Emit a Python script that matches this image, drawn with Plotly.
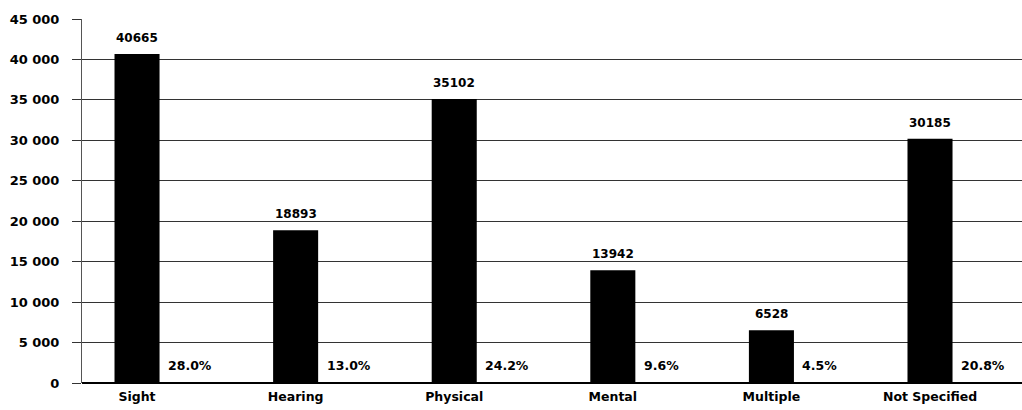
import plotly.graph_objects as go

categories = ["Sight", "Hearing", "Physical", "Mental", "Multiple", "Not Specified"]
counts = [40665, 18893, 35102, 13942, 6528, 30185]
percents = ["28.0%", "13.0%", "24.2%", "9.6%", "4.5%", "20.8%"]
y_ticks = [0, 5000, 10000, 15000, 20000, 25000, 30000, 35000, 40000, 45000]
y_tick_labels = ["0", "5 000", "10 000", "15 000", "20 000", "25 000",
                 "30 000", "35 000", "40 000", "45 000"]

FONT = "DejaVu Sans"
xs = list(range(len(categories)))

fig = go.Figure()
fig.add_trace(go.Bar(
    x=xs, y=counts, width=0.284,
    marker=dict(color="#000000", line=dict(width=0)),
    hoverinfo="skip",
))

annotations = []
for i, (v, p) in enumerate(zip(counts, percents)):
    annotations.append(dict(
        x=i, y=v, text=f"<b>{v}</b>", showarrow=False,
        xanchor="center", yanchor="bottom", yshift=7,
        font=dict(family=FONT, size=12, color="#000"),
    ))
    annotations.append(dict(
        x=i, y=0, text=f"<b>{p}</b>", showarrow=False,
        xanchor="left", yanchor="bottom", xshift=29, yshift=8,
        font=dict(family=FONT, size=12.5, color="#000"),
    ))

fig.update_layout(
    width=1022, height=410,
    margin=dict(l=82, r=0, t=19, b=27),
    plot_bgcolor="#ffffff", paper_bgcolor="#ffffff",
    showlegend=False,
    annotations=annotations,
    xaxis=dict(
        range=[-0.347, 5.58],
        tickvals=xs, ticktext=[f"<b>{c}</b>" for c in categories],
        showgrid=False, zeroline=False, ticks="",
        showline=False,
        ticklabelstandoff=4,
        tickfont=dict(family=FONT, size=12.5, color="#000"),
        fixedrange=True,
    ),
    yaxis=dict(
        range=[0, 45000],
        tickvals=y_ticks, ticktext=[f"<b>{t}</b>" for t in y_tick_labels],
        showgrid=True, gridcolor="#333333", gridwidth=1,
        zeroline=True, zerolinecolor="#000000", zerolinewidth=1.5,
        showline=True, linecolor="#555555", linewidth=1,
        ticks="outside", ticklen=9, tickcolor="#333333",
        ticklabelstandoff=10,
        tickfont=dict(family=FONT, size=13, color="#000"),
        fixedrange=True,
    ),
)

fig.write_html("out.html")
